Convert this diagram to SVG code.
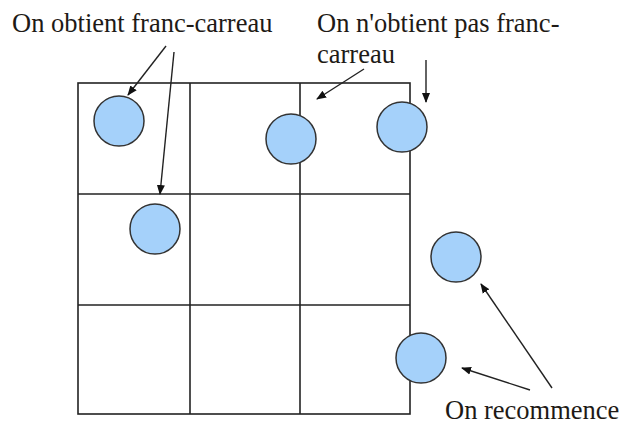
<svg xmlns="http://www.w3.org/2000/svg" width="621" height="425" viewBox="0 0 621 425">
<style>
.grid{stroke:#222;stroke-width:1.6;fill:none}
.ball{fill:#a5d1fa;stroke:#333;stroke-width:1.5}
.arr{stroke:#222;stroke-width:1.4;fill:none;marker-end:url(#ah)}
.lbl{font-size:26.5px;fill:#1e1a16}
</style>
<defs>
<marker id="ah" markerWidth="10" markerHeight="10" refX="9" refY="5" orient="auto" markerUnits="userSpaceOnUse">
<path d="M0,1 L10,5 L0,9 Z" fill="#111"/>
</marker>
</defs>
<rect width="621" height="425" fill="#fff"/>
<g id="grid">
<rect class="grid" x="78" y="83" width="332" height="331"/>
<line class="grid" x1="190" y1="83" x2="190" y2="414"/>
<line class="grid" x1="300" y1="83" x2="300" y2="414"/>
<line class="grid" x1="78" y1="194" x2="410" y2="194"/>
<line class="grid" x1="78" y1="305" x2="410" y2="305"/>
</g>
<g id="ball1"><circle class="ball" cx="119" cy="121" r="25"/></g>
<g id="ball2"><circle class="ball" cx="291" cy="139" r="25"/></g>
<g id="ball3"><circle class="ball" cx="402" cy="127" r="25"/></g>
<g id="ball4"><circle class="ball" cx="155" cy="229" r="25"/></g>
<g id="ball5"><circle class="ball" cx="456" cy="257" r="25"/></g>
<g id="ball6"><circle class="ball" cx="421" cy="358" r="25"/></g>
<g id="labels" font-family="Liberation Serif, serif">
<text class="lbl" x="12" y="32">On obtient franc-carreau</text>
<text class="lbl" x="317" y="32">On n'obtient pas franc-</text>
<text class="lbl" x="317" y="63">carreau</text>
<text class="lbl" x="445" y="419">On recommence</text>
</g>
<g id="connectors">
<line class="arr" x1="166" y1="46" x2="128" y2="95"/>
<line class="arr" x1="174" y1="52" x2="160" y2="194"/>
<line class="arr" x1="364" y1="69" x2="317" y2="99"/>
<line class="arr" x1="426" y1="60" x2="426" y2="102"/>
<line class="arr" x1="552" y1="388" x2="481" y2="284"/>
<line class="arr" x1="530" y1="390" x2="462" y2="368"/>
</g>
</svg>
